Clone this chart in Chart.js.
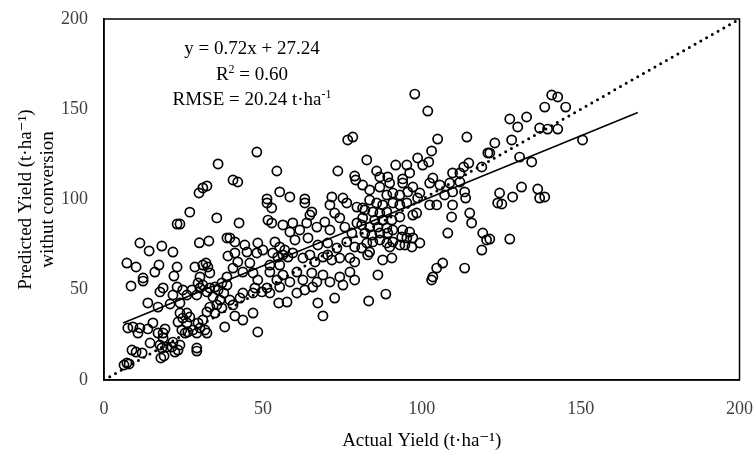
<!DOCTYPE html>
<html><head><meta charset="utf-8">
<script src="https://cdn.jsdelivr.net/npm/chart.js@4/dist/chart.umd.min.js"></script>
<style>html,body{margin:0;padding:0;background:#fff}#wrap{width:755px;height:452px}</style>
</head><body><div id="wrap"><canvas id="c" width="755" height="452"></canvas></div>
<script>
// Observed (actual, predicted) pairs, t·ha-1, grouped by region of the plot
const groupLowLeft=[[8.5,52.1],[12.3,54.8],[13.8,42.7],[17,40.4],[7.5,28.8],[9.1,29.4],[10.7,26],[11.3,28.8],[13.8,28.3],[15.4,31.6],[14.5,20.5],[17.6,19.4],[18.6,23.3],[18.6,26],[19.2,28.3],[17,26],[17.9,12.2],[18.9,13.3],[18.2,17.7],[19.8,18.3],[21.4,18.3],[21.7,21],[22.3,15.5],[23.3,16.6],[23.9,19.4],[29.2,17.7],[29.2,16],[8.8,16.6],[10.1,15.5],[12,15],[7.2,9.4],[6.3,8.3],[7.9,8.9]];
const groupMidLeft=[[23.9,37.1],[23.3,32.1],[24.8,34.3],[26.1,31.6],[27,34.9],[24.5,27.7],[26.4,26.6],[25.5,26],[28,27.7],[29.2,26],[30.2,28.8],[31.8,27.7],[32.4,26],[29.6,31.6],[31.1,33.2],[26.1,37.1],[38,29.4],[20.8,42.1],[23.9,42.7],[21.7,47.1],[24.8,49.9],[26.1,47.1],[27.7,49.9],[29.2,47.1],[30.2,51],[31.1,52.6],[32.4,48.8],[33.3,51],[34.9,51.5],[35.9,49.9],[34.3,46],[35.5,41.6],[33.3,40.4],[32.4,37.7],[34.9,37.1],[37.1,39.9],[36.5,44.3],[37.7,48.2],[38.7,52.6],[37.1,53.7],[29.6,53.7],[23,51.5],[18.6,51],[17.6,48.8]];
const groupUpperLeft=[[11.3,75.9],[14.2,71.5],[18.2,74.2],[21.7,70.9],[7.2,64.8],[10.1,62.6],[17.3,63.7],[16,59.8],[23,62.6],[22,57.6],[12.3,56.5],[28.6,62.6],[31.1,63.7],[32.1,64.8],[32.7,62.6],[33.3,59.3],[30.2,57.1],[38.7,78.7],[39,68.7],[38.7,57.1],[27,93],[35.5,89.8],[23,86.4],[23.9,86.4],[32.4,107.5],[31.1,106.4],[29.9,103.6],[35.9,119.7]];
const groupLowMid=[[40.6,41.6],[41.2,35.5],[43.7,33.2],[46.9,37.1],[48.4,26.6],[42.8,45.4],[43.7,48.2],[46.9,48.2],[49.7,48.8],[52.2,48.2],[55,42.7],[57.6,43.2],[60.7,48.2],[63.2,49.9],[67.3,42.7],[68.9,35.5],[72.6,45.4],[39.6,44.3]];
const groupHighMid=[[48.1,126.3],[54.4,115.8],[76.7,133],[78.3,134.6],[40.6,110.8],[42.1,109.7],[73.6,115.8],[78.9,113],[79.2,110.8],[55.3,104.2],[58.5,101.4],[71.7,101.4],[75.2,100.8],[63.2,100.3],[51.3,100.3]];
const groupCenter=[[51.3,98.1],[52.8,95.3],[63.2,98.1],[65.4,93.1],[64.8,91.4],[71.1,97],[72.6,92.5],[74.2,89.8],[76.4,98.1],[79.6,95.8],[42.5,87],[51.6,88.6],[52.8,87],[56.3,85.9],[59.4,87],[61.6,83.1],[58.5,82],[63.8,87],[67,84.7],[69.5,87.5],[71.1,83.1],[75.8,84.7],[79.6,87],[78,81.4],[39.6,78.7],[41.2,76.5],[44.3,74.8],[48.4,75.9],[53.8,76.5],[55.3,73.7],[56.9,72],[60.1,77.6],[64.2,78.7],[67.3,74.8],[70.4,75.9],[73.3,73.1],[76.4,76.5],[78.9,73.7],[41.2,70.4],[45,70.9],[48.1,70.4],[50,72],[53.1,70.4],[54.7,68.1],[56.3,69.3],[57.9,68.1],[59.4,70.4],[62.6,67.6],[64.8,69.3],[66.4,65.4],[68.9,68.1],[70.4,69.3],[71.7,66.5],[74.2,67.6],[77.4,67.6],[78.9,65.4],[52.2,63.7],[55.3,63.7],[45.9,64.8],[42.1,65.4],[40.6,62],[43.7,59.8],[46.9,59.3],[48.4,55.4],[52.2,59.8],[54.4,55.4],[56.3,58.2],[58.5,54.3],[60.7,59.8],[62.6,55.4],[65.4,59.3],[67,54.3],[68.9,58.2],[71.1,54.3],[74.2,57.1],[77.4,59.8],[78.9,55.4],[55.3,51.5],[65.7,51.5],[75.2,52.6],[47.5,51],[51.3,51],[30,76],[33,77]];
const groupUpperRight=[[97.8,158.4],[101.9,149],[105,133.5],[114.2,134.6],[103.1,126.9],[82.7,121.9],[85.8,115.8],[91.8,119.1],[95.3,119.1],[98.7,123],[100.3,119.1],[102.2,120.8],[96.2,114.7],[109.7,114.7],[112,114.7],[113.2,118],[114.8,120.2],[118.9,118],[120.8,125.8],[86.8,112.5],[89.3,112.5],[103.5,111.9],[94,111.4]];
const groupRight=[[81.4,108],[83.6,105.3],[86.8,106.9],[89.9,109.1],[94,109.1],[97.2,106.9],[99.4,103.6],[102.5,109.1],[105.7,108],[108.8,109.1],[112,109.7],[113.5,104.2],[109.7,104.2],[89,102.5],[90.9,103.6],[93.1,102.5],[95.6,104.2],[98.7,100.8],[83.6,99.7],[85.8,98.1],[87.7,97],[90.9,98.1],[93.1,97],[95.3,98.1],[81.4,95.3],[102.5,97],[104.7,97],[109.7,97],[109.4,90.3],[115.1,92.5],[115.7,87],[108.2,81.4],[119.2,81.4],[120.4,77.6],[118.9,72],[82.1,94.2],[84.6,93.1],[86.8,92.5],[89,93.1],[81.4,89.8],[85.2,88.6],[87.7,88.6],[90.6,88.6],[93.1,90.3],[97.2,91.4],[98.4,92.5],[81.1,85.9],[83.6,84.7],[86.2,84.7],[89,84.2],[90.9,83.1],[94,83.1],[96.2,82],[82.1,81.4],[84.3,80.3],[86.8,81.4],[89.3,81.4],[93.7,79.2],[95.3,78.7],[97.2,78.7],[99.4,75.9],[94.7,74.8],[96.9,73.7],[93.1,74.8],[90.9,76.5],[89,75.9],[86.8,77.6],[84.6,76.5],[82.7,75.9],[81.1,73.1],[83.6,70.9],[83,69.3],[89.9,73.7],[87.7,66.5],[90.6,67.6],[86.2,58.2],[104.7,62],[106.6,64.8],[103.5,57.1],[113.5,62],[83.3,43.8],[88.7,47.6],[103.1,55.4],[113.8,100.8],[107.2,102.5]];
const groupFarRight=[[140.9,157.9],[142.8,156.8],[138.7,151.2],[145.3,151.2],[127.7,144.6],[130.2,140.2],[133,145.7],[137.1,139.6],[139.6,139],[142.8,139],[123,131.3],[128.3,133],[121.4,125.8],[130.8,123.5],[134.6,120.8],[150.6,133],[124.5,103.6],[123.9,98.1],[125.2,97.5],[128.6,101.4],[131.4,106.9],[136.5,105.8],[137.1,100.8],[138.7,101.4],[121.4,78.1],[127.7,78.1]];

const xTicks=[0,50,100,150,200];
const yTicks=[0,50,100,150,200];
const fitSlope=0.72, fitIntercept=27.24;
const fitRange=[6,168];
const identityRange=[0,200];
const xTitle='Actual Yield (t·ha⁻¹)';
const yTitle=['Predicted Yield (t·ha⁻¹)','withut conversion'];
const annotation=[
  [{t:'y = 0.72x + 27.24'}],
  [{t:'R'},{t:'2',sup:true},{t:' = 0.60'}],
  [{t:'RMSE = 20.24 t·ha'},{t:'-1',sup:true}]
];

const allPoints=[].concat(groupLowLeft,groupMidLeft,groupUpperLeft,groupLowMid,groupHighMid,groupCenter,groupUpperRight,groupRight,groupFarRight).map(p=>({x:p[0],y:p[1]}));
const fitLine=fitRange.map(x=>({x:x,y:fitSlope*x+fitIntercept}));
const idLine=identityRange.map(v=>({x:v,y:v}));
const SERIF='"Liberation Serif", "DejaVu Serif", serif';

const framePlugin={id:'frame',afterDatasetsDraw(chart){const a=chart.chartArea,c=chart.ctx;c.save();c.strokeStyle='#000';c.lineWidth=1.5;c.strokeRect(a.left,a.top,a.right-a.left,a.bottom-a.top);c.restore();}};
const annoPlugin={id:'anno',afterDraw(chart){const c=chart.ctx;const cx=252;const base=[54,80,105];c.save();c.fillStyle='#000';c.textBaseline='alphabetic';c.textAlign='left';
  annotation.forEach((segs,i)=>{let w=0;segs.forEach(s=>{c.font=(s.sup?'12px ':'19px ')+SERIF;w+=c.measureText(s.t).width;});let x=cx-w/2;
    segs.forEach(s=>{c.font=(s.sup?'12px ':'19px ')+SERIF;c.fillText(s.t,x,base[i]-(s.sup?7:0));x+=c.measureText(s.t).width;});});
  c.restore();}};

new Chart(document.getElementById('c'),{
  type:'scatter',
  data:{datasets:[
    {label:'Observations',data:allPoints,pointStyle:'circle',pointRadius:4.6,pointHoverRadius:4.6,pointBorderWidth:1.7,borderColor:'#000',backgroundColor:'rgba(0,0,0,0)',order:3},
    {type:'line',label:'Fit',data:fitLine,borderColor:'#000',borderWidth:1.5,pointRadius:0,fill:false,order:2},
    {type:'line',label:'1:1',data:idLine,borderColor:'#000',borderWidth:3,borderDash:[0,6.6],borderCapStyle:'round',pointRadius:0,fill:false,order:1}
  ]},
  options:{
    responsive:false,animation:false,devicePixelRatio:1,
    layout:{padding:{left:0,top:19,right:15,bottom:0}},
    plugins:{legend:{display:false},tooltip:{enabled:false}},
    scales:{
      x:{type:'linear',min:0,max:200,afterBuildTicks:s=>{s.ticks=xTicks.map(v=>({value:v}));},
        ticks:{font:{family:SERIF,size:18},color:'#404040',padding:2},
        grid:{display:false,drawTicks:true,tickLength:16},border:{display:true,color:'#000',width:1.5},
        title:{display:true,text:xTitle,font:{family:SERIF,size:19},color:'#000',padding:{top:4,bottom:0}},
        afterFit:s=>{s.height=72;}},
      y:{type:'linear',min:0,max:200,afterBuildTicks:s=>{s.ticks=yTicks.map(v=>({value:v}));},
        ticks:{font:{family:SERIF,size:18},color:'#404040',padding:2},
        grid:{display:false,drawTicks:true,tickLength:14},border:{display:true,color:'#000',width:1.5},
        title:{display:true,text:yTitle,font:{family:SERIF,size:19,lineHeight:1.15},color:'#000',padding:{top:15,bottom:0}},
        afterFit:s=>{s.width=104;}}
    }
  },
  plugins:[framePlugin,annoPlugin]
});
</script></body></html>
